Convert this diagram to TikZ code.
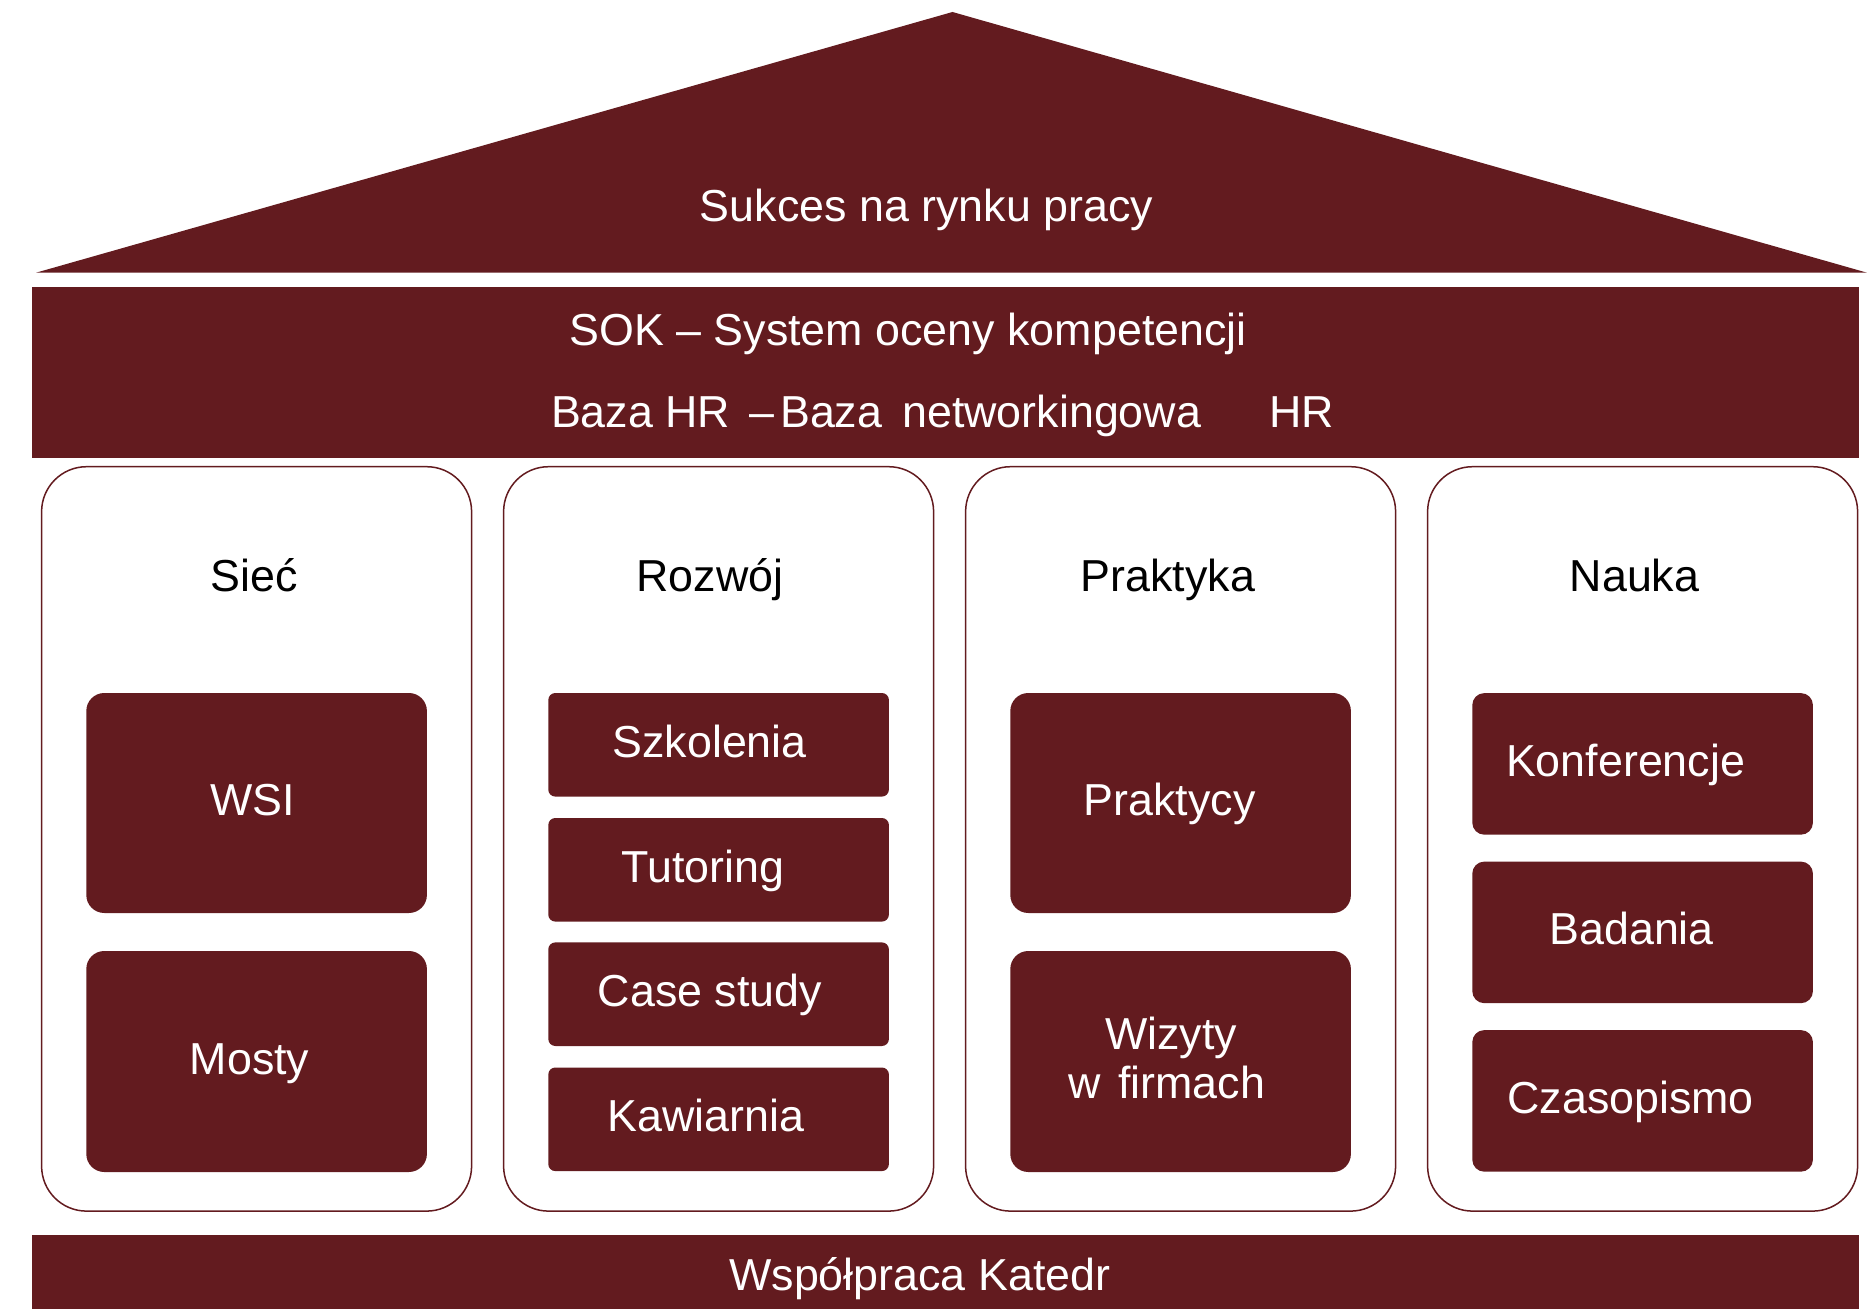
\documentclass[tikz,border=0pt]{standalone}
\usepackage{fontspec}
\setmainfont{Liberation Sans}
\definecolor{maroon}{RGB}{99,27,31}
\begin{document}
\begin{tikzpicture}
[x=0.5pt,y=-0.5pt,
  font=\fontsize{22.4}{24.5}\selectfont,
  pillardecorate/.style={shape=rectangle,draw=maroon,line width=0.75pt,rounded corners=22.5pt,minimum width=215pt,minimum height=372.2pt,inner sep=0pt},%
  blockdecorate/.style={shape=rectangle,fill=maroon,text=white,minimum width=170.3pt,inner sep=0pt},%
  bardecorate/.style={shape=rectangle,fill=maroon,minimum width=913.3pt,inner sep=0pt},%
  capdecorate/.style={inner sep=0pt,text height=16pt,text depth=0pt}]
\useasboundingbox (0,0) rectangle (1867,1309);
%% roof
\fill[maroon] (952.5,12) -- (36,272.7) -- (1867,272.7) -- cycle;
\node (roof) at (926.4,206) [capdecorate,text=white] {Sukces na rynku pracy};
%% beam
\node (beam) at (945.4,372.8) [bardecorate,minimum height=85.5pt] {};
\node (sok) at (908,330) [capdecorate,text=white] {SOK – System oceny kompetencji};
\node (hr) at (942.5,411.7) [capdecorate,text=white] {Baza HR\hspace{9.5pt}–\hspace{3pt}Baza\hspace{10pt}networkingowa\hspace{34pt}HR};
%% pillars
\foreach \pillarname/\x/\tx/\pillartext in {
  siec/256.6/254/Sieć, rozwoj/718.6/710/Rozwój,
  praktyka/1180.6/1168/Praktyka, nauka/1642.6/1634.5/Nauka} {
  \node (\pillarname) at (\x,838.9) [pillardecorate] {};
  \node (\pillarname-title) at (\tx,576) [capdecorate] {\pillartext};
}
%% blocks
\foreach \blockname/\x/\y/\boxh/\radius/\dx/\blocktext in {
  wsi/256.6/803/110/9/3.7/WSI, mosty/256.6/1061.5/110.5/9/7/Mosty,
  szkolenia/718.6/744.8/51.8/3.5/9/Szkolenia, tutoring/718.6/869.8/51.8/3.5/15.5/Tutoring,
  casestudy/718.6/994.2/51.8/3.5/8.6/Case study, kawiarnia/718.6/1119.3/51.8/3.5/12.6/Kawiarnia,
  praktycy/1180.6/803/110/9/11/Praktycy,
  konferencje/1642.6/763.9/70.8/6/17/Konferencje, badania/1642.6/932.4/70.8/6/11/Badania,
  czasopismo/1642.6/1100.9/70.8/6/12/Czasopismo} {
  \node (\blockname) at (\x,\y) [blockdecorate,capdecorate,text depth=3.5pt,minimum height=\boxh pt,rounded corners=\radius pt] {\blocktext\kern\dx pt};
}
\node (wizyty) at (1180.6,1061.5) [blockdecorate,minimum height=110.5pt,rounded corners=9pt,align=center] {Wizyty\kern9.6pt\\w\hspace{9pt}firmach\kern14pt\rule[-3.5pt]{0pt}{0pt}};
%% foundation
\node (foundation) at (945.4,1272) [bardecorate,minimum height=37pt] {};
\node (katedry) at (919.8,1274.5) [capdecorate,text=white] {Współpraca Katedr};
\end{tikzpicture}
\end{document}
